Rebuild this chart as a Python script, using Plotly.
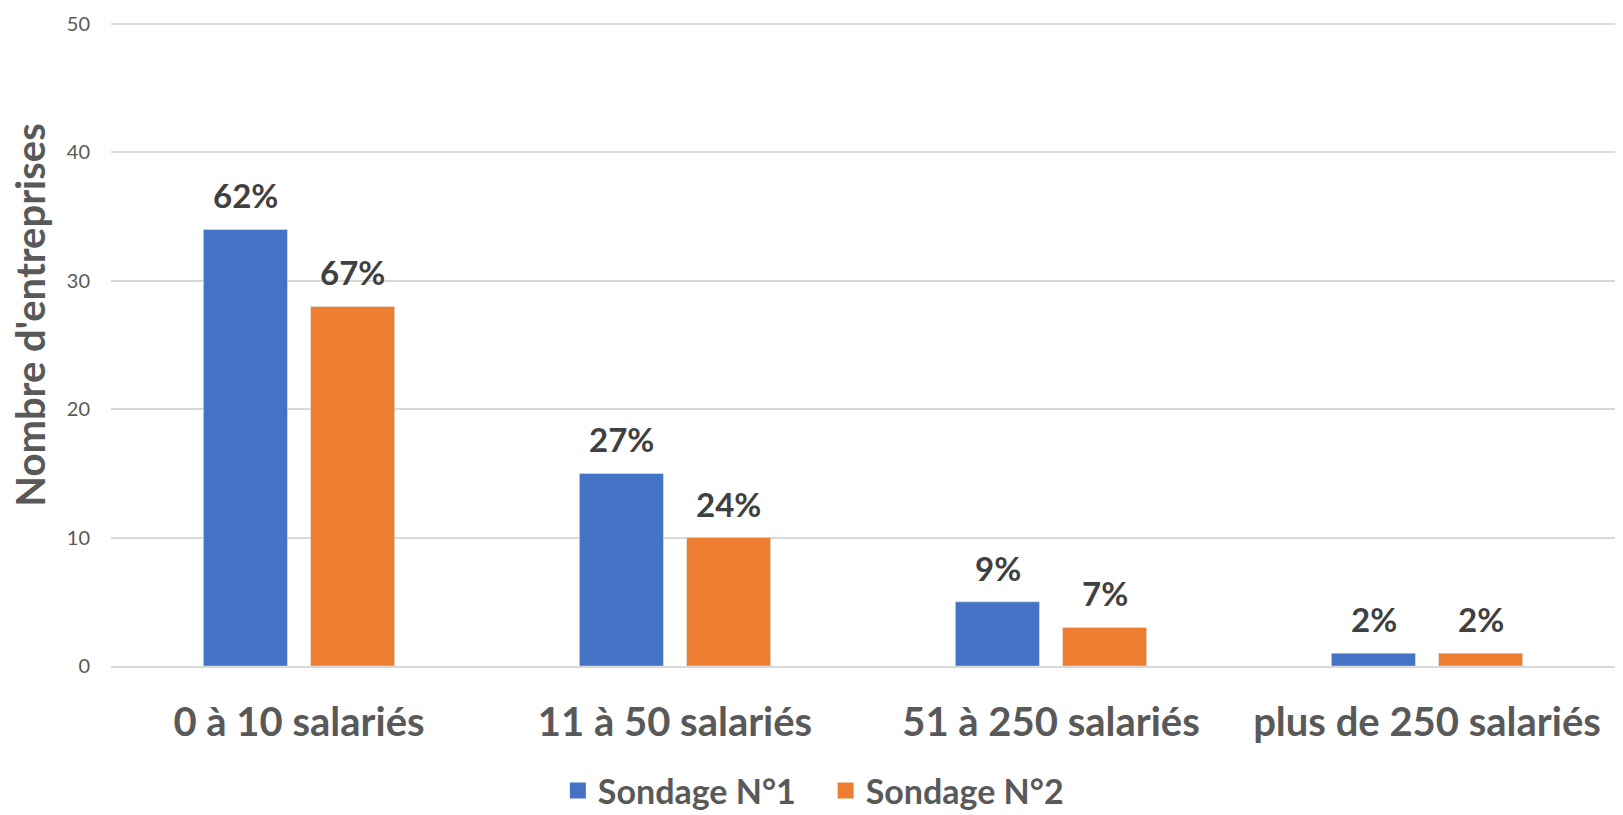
import plotly.graph_objects as go

categories = ["0 à 10 salariés", "11 à 50 salariés", "51 à 250 salariés", "plus de 250 salariés"]
sondage1 = [34, 15, 5, 1]
sondage2 = [28, 10, 3, 1]
labels1 = ["62%", "27%", "9%", "2%"]
labels2 = ["67%", "24%", "7%", "2%"]
y_ticks = [0, 10, 20, 30, 40, 50]
series = [("Sondage N°1", sondage1, labels1, "#4472C4", -53.5),
          ("Sondage N°2", sondage2, labels2, "#ED7D31", 53.5)]

FONT = "Lato, 'Open Sans', sans-serif"

fig = go.Figure()
annotations = []
for i, (name, vals, labs, color, dx) in enumerate(series):
    fig.add_trace(go.Bar(x=categories, y=vals, name=name, marker_color=color,
                         showlegend=False, hoverinfo="x+y"))
    legend_name = name + ("\u00a0\u00a0\u00a0" if i == 0 else "")
    fig.add_trace(go.Scatter(x=[None], y=[None], mode="markers", name=legend_name,
                             marker=dict(symbol="square", size=20, color=color),
                             showlegend=True))
    for c, v, t in zip(categories, vals, labs):
        annotations.append(dict(x=c, y=v, xref="x", yref="y", text=t, showarrow=False,
                                xshift=dx, yshift=12, yanchor="bottom", xanchor="center",
                                font=dict(family=FONT, size=33, color="#404040", weight="bold")))

annotations.append(dict(
    text="Nombre d'entreprises", xref="paper", yref="paper",
    x=-0.054, y=0.545, xanchor="center", yanchor="middle", textangle=-90,
    showarrow=False,
    font=dict(family=FONT, size=40, color="#595959", weight="bold")))

fig.update_layout(
    width=1623, height=815,
    margin=dict(l=111, r=8, t=22, b=149, autoexpand=False),
    paper_bgcolor="white", plot_bgcolor="white",
    barmode="group", bargap=0.43, bargroupgap=0.215,
    font=dict(family=FONT, color="#595959"),
    showlegend=True,
    legend=dict(orientation="h", x=0.467, xanchor="center", y=-0.194, yanchor="middle",
                font=dict(family=FONT, size=34, color="#595959", weight="bold"),
                itemsizing="trace", traceorder="normal", itemwidth=30),
    xaxis=dict(showgrid=False, showline=True, linecolor="#D9D9D9", linewidth=2,
               tickfont=dict(family=FONT, size=40, color="#595959", weight="bold"),
               ticks="", ticklabelstandoff=20, automargin=False),
    yaxis=dict(range=[0, 50.15625], tickvals=y_ticks, showgrid=True, gridcolor="#D9D9D9",
               gridwidth=1.5, zeroline=False, showline=False,
               tickfont=dict(family=FONT, size=20, color="#595959"),
               ticks="", ticklabelstandoff=20, automargin=False),
    annotations=annotations,
)

fig.write_html("out.html", post_script="document.body.style.margin='0';",
               config={"displayModeBar": False})
